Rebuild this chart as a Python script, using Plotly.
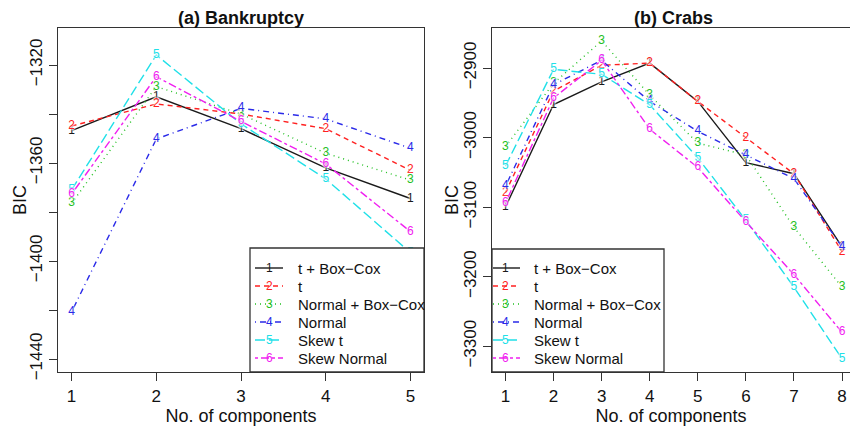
import plotly.graph_objects as go

W, H = 850, 433

# ---------------- data ----------------
series_names = ["t + Box−Cox", "t", "Normal + Box−Cox", "Normal", "Skew t", "Skew Normal"]
series_digits = ["1", "2", "3", "4", "5", "6"]

bank_k = [1, 2, 3, 4, 5]
bank_tbc = [-1346.8, -1333.0, -1346.0, -1362.0, -1374.5]
bank_t = [-1344.9, -1335.9, -1340.0, -1346.0, -1363.0]
bank_nbc = [-1376.5, -1328.8, -1340.0, -1356.0, -1367.0]
bank_n = [-1420.8, -1350.2, -1337.7, -1342.0, -1354.0]
bank_st = [-1371.0, -1315.9, -1344.0, -1366.5, -1396.6]
bank_sn = [-1372.7, -1324.8, -1343.0, -1360.4, -1388.0]

crab_k = [1, 2, 3, 4, 5, 6, 7, 8]
crab_tbc = [-3100, -2952.5, -2920, -2893, -2948, -3036, -3052, -3157]
crab_t = [-3079, -2933, -2896, -2893, -2948, -3000, -3052, -3164]
crab_nbc = [-3013, -2922, -2861, -2939, -3008, -3025, -3129, -3215]
crab_n = [-3070, -2924, -2889, -2948, -2991, -3025, -3059, -3157]
crab_st = [-3041, -2902, -2909, -2953, -3029, -3119, -3215, -3318]
crab_sn = [-3094, -2943, -2889, -2988, -3043, -3121, -3197, -3280]

bank_ticks = [-1440, -1420, -1400, -1380, -1360, -1340, -1320]
bank_ticklabels = ["−1440", "", "−1400", "", "−1360", "", "−1320"]
crab_ticks = [-3300, -3200, -3100, -3000, -2900]
crab_ticklabels = ["−3300", "−3200", "−3100", "−3000", "−2900"]

# ---------------- styles ----------------
colors = ["#1a1a1a", "#ff2020", "#22c022", "#2a2ae8", "#20e0e8", "#f020f0"]
dashes = ["solid", "5px,4px", "1px,4px", "1px,4px,6px,4px", "10px,4px", "3px,3px,8px,3px"]
FONT = "Liberation Sans, Arial, Helvetica, sans-serif"
AX = "#333333"

fig = go.Figure()

bank = [bank_tbc, bank_t, bank_nbc, bank_n, bank_st, bank_sn]
crab = [crab_tbc, crab_t, crab_nbc, crab_n, crab_st, crab_sn]

halo = "0 0 2px #fff, 0 0 2px #fff, 0 0 3px #fff"
for i in range(6):
    fig.add_trace(go.Scatter(
        x=bank_k, y=bank[i], mode="lines+text", text=[series_digits[i]] * len(bank_k),
        textposition="middle center",
        textfont=dict(family=FONT, size=12, color=colors[i], shadow=halo),
        line=dict(color=colors[i], width=1.4, dash=dashes[i]),
        xaxis="x", yaxis="y", showlegend=False, cliponaxis=False))
for i in range(6):
    fig.add_trace(go.Scatter(
        x=crab_k, y=crab[i], mode="lines+text", text=[series_digits[i]] * len(crab_k),
        textposition="middle center",
        textfont=dict(family=FONT, size=12, color=colors[i], shadow=halo),
        line=dict(color=colors[i], width=1.4, dash=dashes[i]),
        xaxis="x2", yaxis="y2", showlegend=False, cliponaxis=False))

def px(x):
    return x / W

def py(y):
    return 1 - y / H

ydom = [py(372), py(28)]

axis_common = dict(
    showline=True, linecolor=AX, linewidth=1.3, ticks="outside", ticklen=8,
    tickcolor=AX, tickwidth=1.2, showgrid=False, zeroline=False,
    tickfont=dict(family=FONT, size=17, color="#111"), automargin=False,
)

fig.update_layout(
    width=W, height=H, margin=dict(l=0, r=0, t=0, b=0),
    paper_bgcolor="white", plot_bgcolor="white",
    xaxis=dict(domain=[px(58), px(424)], range=[0.84, 5.16], tickvals=bank_k,
               mirror=True, anchor="y",
               title=dict(text="No. of components", standoff=4,
                          font=dict(family=FONT, size=18, color="#111")),
               **axis_common),
    yaxis=dict(domain=ydom, range=[-1445.3, -1304.9], tickvals=bank_ticks,
               ticktext=bank_ticklabels, tickangle=-90, mirror=True, anchor="x",
               **axis_common),
    xaxis2=dict(domain=[px(492), 1.0], range=[0.72, 8.166], tickvals=crab_k,
                mirror=True, anchor="y2",
                title=dict(text="No. of components", standoff=4,
                           font=dict(family=FONT, size=18, color="#111")),
                **axis_common),
    yaxis2=dict(domain=ydom, range=[-3337, -2842.5], tickvals=crab_ticks,
                ticktext=crab_ticklabels, tickangle=-90, mirror=False, anchor="x2",
                **axis_common),
)

annotations = [
    dict(text="<b>(a) Bankruptcy</b>", x=px(241), y=py(18), xref="paper", yref="paper",
         showarrow=False, font=dict(family=FONT, size=18, color="#111"),
         xanchor="center", yanchor="middle"),
    dict(text="<b>(b) Crabs</b>", x=px(673.5), y=py(18), xref="paper", yref="paper",
         showarrow=False, font=dict(family=FONT, size=18, color="#111"),
         xanchor="center", yanchor="middle"),
    dict(text="BIC", x=px(20), y=py(200), xref="paper", yref="paper", textangle=-90,
         showarrow=False, font=dict(family=FONT, size=18, color="#111"),
         xanchor="center", yanchor="middle"),
    dict(text="BIC", x=px(452), y=py(200), xref="paper", yref="paper", textangle=-90,
         showarrow=False, font=dict(family=FONT, size=18, color="#111"),
         xanchor="center", yanchor="middle"),
]
shapes = []

def add_legend(x0, x1, y0, y1, seg0, seg1, digx, textx):
    shapes.append(dict(type="rect", xref="paper", yref="paper",
                       x0=px(x0), x1=px(x1), y0=py(y1), y1=py(y0),
                       line=dict(color=AX, width=1.3), fillcolor="white", layer="above"))
    for i in range(6):
        ry = 268 + 18 * i
        shapes.append(dict(type="line", xref="paper", yref="paper",
                           x0=px(seg0), x1=px(seg1), y0=py(ry), y1=py(ry),
                           line=dict(color=colors[i], width=1.4, dash=dashes[i]),
                           layer="above"))
        annotations.append(dict(text=series_digits[i], x=px(digx), y=py(ry), xref="paper",
                                yref="paper", showarrow=False, xanchor="center",
                                yanchor="middle",
                                font=dict(family=FONT, size=12, color=colors[i])))
        annotations.append(dict(text=series_names[i], x=px(textx), y=py(ry), xref="paper",
                                yref="paper", showarrow=False, xanchor="left",
                                yanchor="middle",
                                font=dict(family=FONT, size=15, color="#111")))

add_legend(250, 424, 248, 372, 255, 283, 269, 296)
add_legend(492, 664, 249, 372, 493, 520, 505, 532)

fig.update_layout(annotations=annotations, shapes=shapes)

fig.write_html("out.html")
